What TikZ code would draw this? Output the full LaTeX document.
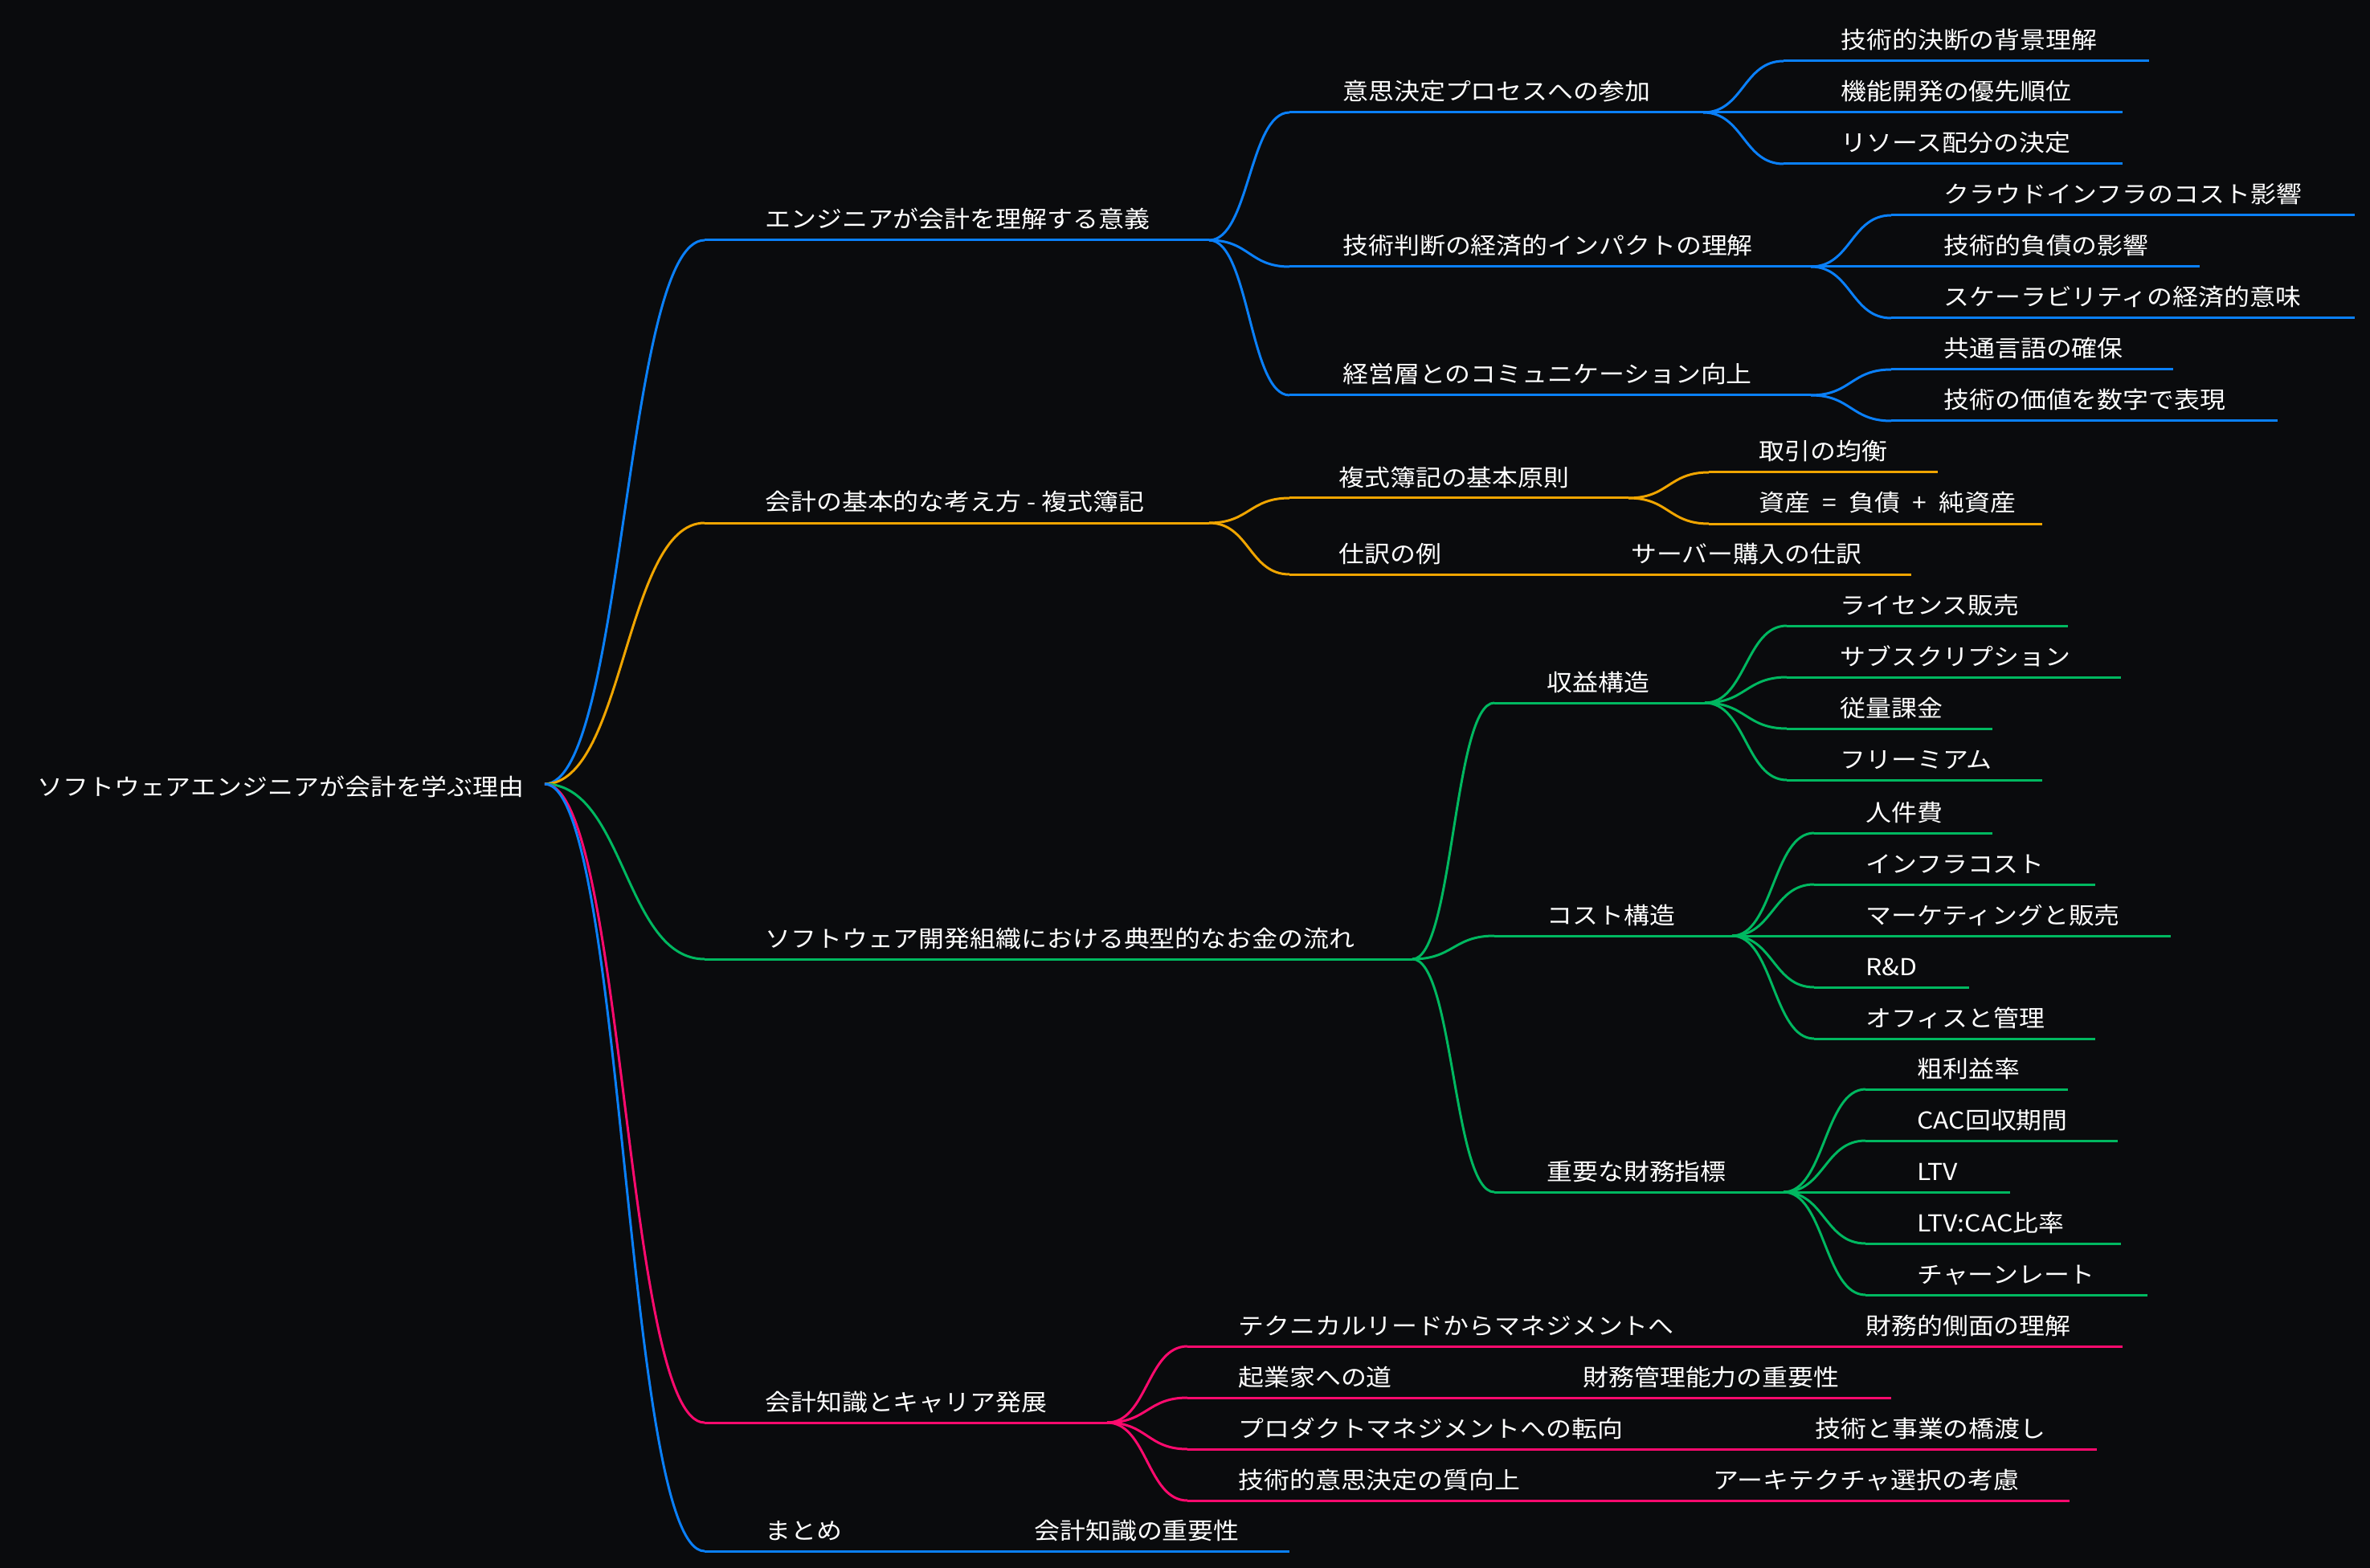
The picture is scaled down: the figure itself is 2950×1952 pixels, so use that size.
\documentclass[tikz,border=0pt]{standalone}
\usepackage{fontspec}
\newfontfamily\jp[FakeStretch=1.1]{Noto Sans CJK JP}
\usetikzlibrary{calc}
\definecolor{bg}{RGB}{10,11,13}
\definecolor{cblue}{RGB}{10,128,250}
\definecolor{corange}{RGB}{240,165,0}
\definecolor{cgreen}{RGB}{0,184,96}
\definecolor{cpink}{RGB}{255,10,110}
\tikzset{
  lbl/.style={anchor=base west, inner sep=0pt, text=white, font=\jp\fontsize{14.5}{16}\selectfont},
  ln/.style={line width=1.5pt},
}
% link: colour, from, to
\newcommand\lnk[3]{\draw[ln,#1] let \p1=(#2), \p2=(#3) in (\p1) .. controls ({(\x1+\x2)/2},\y1) and ({(\x1+\x2)/2},\y2) .. (\p2);}
% node: colour, name, parent, y, start x, end x, text x, text
\newcommand\nd[8]{%
  \coordinate (#2-s) at (#5,#4);
  \coordinate (#2-e) at (#6,#4);
  \draw[ln,#1] (#2-s) -- (#2-e);
  \lnk{#1}{#3}{#2-s}
  \node[lbl] (#2) at (#7,{#4-15}) {#8};}
\newcommand\gap{\hspace{7.6pt}}
\begin{document}
\begin{tikzpicture}[x=0.5pt,y=-0.5pt]
\fill[bg] (0,0) rectangle (2950,1952);
\useasboundingbox (0,0) rectangle (2950,1952);

\coordinate (root) at (678,976);
\node[lbl] (rootT) at (46,990) {ソフトウェアエンジニアが会計を学ぶ理由};

% level 1
\nd{cblue}{A}{root}{299}{877}{1505}{952}{エンジニアが会計を理解する意義}
\nd{corange}{B}{root}{651}{877}{1505}{952}{会計の基本的な考え方 - 複式簿記}
\nd{cgreen}{C}{root}{1194}{877}{1758}{952}{ソフトウェア開発組織における典型的なお金の流れ}
\nd{cpink}{D}{root}{1771}{877}{1378}{952}{会計知識とキャリア発展}
\nd{cblue}{E}{root}{1931}{877}{1100}{952}{まとめ}
\nd{cblue}{E1}{E-e}{1931}{1220}{1605}{1287}{会計知識の重要性}

% A
\nd{cblue}{A1}{A-e}{140}{1605}{2120}{1671}{意思決定プロセスへの参加}
\nd{cblue}{A2}{A-e}{332}{1605}{2254}{1671}{技術判断の経済的インパクトの理解}
\nd{cblue}{A3}{A-e}{492}{1605}{2254}{1671}{経営層とのコミュニケーション向上}
\nd{cblue}{A1a}{A1-e}{76}{2220}{2675}{2291}{技術的決断の背景理解}
\nd{cblue}{A1b}{A1-e}{140}{2220}{2642}{2291}{機能開発の優先順位}
\nd{cblue}{A1c}{A1-e}{204}{2220}{2642}{2291}{リソース配分の決定}
\nd{cblue}{A2a}{A2-e}{268}{2354}{2931}{2419}{クラウドインフラのコスト影響}
\nd{cblue}{A2b}{A2-e}{332}{2354}{2738}{2419}{技術的負債の影響}
\nd{cblue}{A2c}{A2-e}{396}{2354}{2931}{2419}{スケーラビリティの経済的意味}
\nd{cblue}{A3a}{A3-e}{460}{2354}{2705}{2419}{共通言語の確保}
\nd{cblue}{A3b}{A3-e}{524}{2354}{2835}{2419}{技術の価値を数字で表現}

% B
\nd{corange}{B1}{B-e}{620}{1605}{2027}{1666}{複式簿記の基本原則}
\nd{corange}{B2}{B-e}{715}{1605}{1830}{1666}{仕訳の例}
\nd{corange}{B2a}{B2-e}{715}{1965}{2379}{2030}{サーバー購入の仕訳}
\nd{corange}{B1a}{B1-e}{588}{2127}{2412}{2189}{取引の均衡}
\nd{corange}{B1b}{B1-e}{652}{2127}{2542}{2189}{資産\gap{}=\gap{}負債\gap{}+\gap{}純資産}

% C
\nd{cgreen}{C1}{C-e}{875}{1860}{2122}{1925}{収益構造}
\nd{cgreen}{C2}{C-e}{1165}{1860}{2156}{1925}{コスト構造}
\nd{cgreen}{C3}{C-e}{1484}{1860}{2220}{1925}{重要な財務指標}
\nd{cgreen}{C1a}{C1-e}{779}{2224}{2574}{2290}{ライセンス販売}
\nd{cgreen}{C1b}{C1-e}{843}{2224}{2640}{2290}{サブスクリプション}
\nd{cgreen}{C1c}{C1-e}{907}{2224}{2480}{2290}{従量課金}
\nd{cgreen}{C1d}{C1-e}{971}{2224}{2542}{2290}{フリーミアム}
\nd{cgreen}{C2a}{C2-e}{1037}{2258}{2480}{2322}{人件費}
\nd{cgreen}{C2b}{C2-e}{1101}{2258}{2608}{2322}{インフラコスト}
\nd{cgreen}{C2c}{C2-e}{1165}{2258}{2702}{2322}{マーケティングと販売}
\nd{cgreen}{C2d}{C2-e}{1229}{2258}{2451}{2322}{R\&D}
\nd{cgreen}{C2e}{C2-e}{1293}{2258}{2608}{2322}{オフィスと管理}
\nd{cgreen}{C3a}{C3-e}{1356}{2322}{2574}{2386}{粗利益率}
\nd{cgreen}{C3b}{C3-e}{1420}{2322}{2636}{2386}{CAC回収期間}
\nd{cgreen}{C3c}{C3-e}{1484}{2322}{2502}{2386}{LTV}
\nd{cgreen}{C3d}{C3-e}{1548}{2322}{2640}{2386}{LTV:CAC比率}
\nd{cgreen}{C3e}{C3-e}{1612}{2322}{2673}{2386}{チャーンレート}

% D
\nd{cpink}{D1}{D-e}{1676}{1478}{2150}{1541}{テクニカルリードからマネジメントへ}
\nd{cpink}{D2}{D-e}{1740}{1478}{1800}{1541}{起業家への道}
\nd{cpink}{D3}{D-e}{1804}{1478}{2090}{1541}{プロダクトマネジメントへの転向}
\nd{cpink}{D4}{D-e}{1868}{1478}{1960}{1541}{技術的意思決定の質向上}
\nd{cpink}{D1a}{D1-e}{1676}{2256}{2642}{2322}{財務的側面の理解}
\nd{cpink}{D2a}{D2-e}{1740}{1904}{2354}{1970}{財務管理能力の重要性}
\nd{cpink}{D3a}{D3-e}{1804}{2193}{2610}{2259}{技術と事業の橋渡し}
\nd{cpink}{D4a}{D4-e}{1868}{2066}{2576}{2132}{アーキテクチャ選択の考慮}
\end{tikzpicture}
\end{document}
